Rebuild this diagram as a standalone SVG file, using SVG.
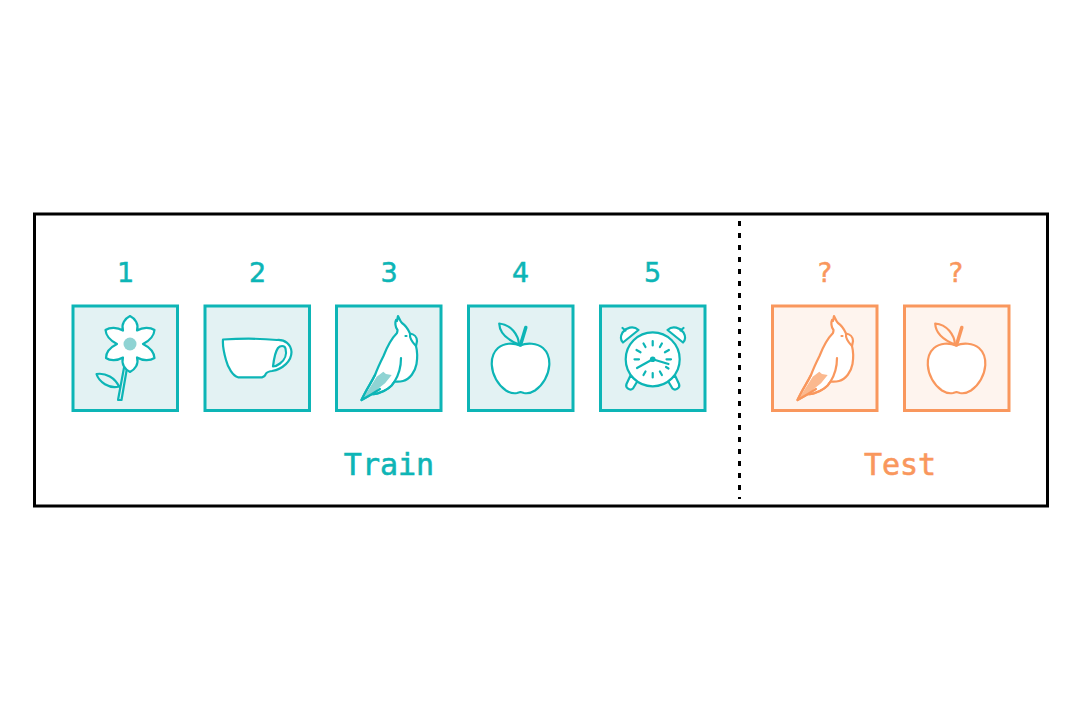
<svg xmlns="http://www.w3.org/2000/svg" width="1081" height="721" viewBox="0 0 1081 721">
<style>
.train{color:#0db5b6;--soft:#8fd3d3}
.test{color:#f9975d;--soft:#fbb98f}
.box{stroke:currentColor;stroke-width:3}
.train .box{fill:#e3f2f3}
.test .box{fill:#fef4ee}
.ico{fill:#fff;stroke:currentColor;stroke-width:2.200;stroke-linejoin:round;stroke-linecap:round}
.no{fill:none}
.soft{fill:var(--soft);stroke:none}
.num{font-family:"DejaVu Sans",sans-serif;font-size:27px;fill:currentColor;stroke:currentColor;stroke-width:.5;text-anchor:middle}
.cap{font-family:"DejaVu Sans Mono",monospace;font-size:30px;fill:currentColor;stroke:currentColor;stroke-width:.6;text-anchor:middle}
</style>
<defs>
<g id="parrot">
<path class="ico" d="M361.500 400C366 390 371 383 375 375C378 367 380 363 383.500 356C387 347 391 339 397 333C397.500 331 397.500 330.500 397.500 330C395 327 395 322 396 320L397 321L398 316C399.500 319 400.500 322 402 323C405 325 408 329 410 333.500C414 334 417 337 417 341L416 346C417.500 352 417.500 358 416.500 364C415 372 410 379 403 381C400 381.800 397 381.800 394.500 381.500C391 388 384 391.500 377 393.500C374 394.300 372 394.400 372 394L361.500 400Z"/>
<path class="soft" d="M362.500 399L376.700 376.700L383.300 371.700L386 374L391.700 375L385 383.300L379 388L373.300 393.300Z"/>
<path class="ico no" d="M361.500 400C366 390 371 383 375 375M361.500 400L372 394C374 394.400 376 394 378 393.500C384 391.500 391 388 394.500 381.500M394.500 381.500C398 376 401 368 401 358M372 394L380 389M410 334C409.500 338 412 342 416 346M405.500 336L406.500 336"/>
</g>
<g id="apple">
<path class="ico" d="M520 345.500C513 342.500 504 343 498 348C493 352.500 491.500 359 491.800 365C492.300 375 498 385 506 390.500C510 393 514 393.600 517 393L520.500 392L524 393C527 393.600 531 393 535 390.500C543 385 548.700 375 549.300 365C549.600 359 548 352.500 543 348C537 343 527 342.500 520 345.500Z"/>
<path class="ico no" d="M519 344.500C518.500 335 511 324.500 499.200 323.500C499.500 331 505 339 519 344.500Z"/>
<path class="no" style="stroke:currentColor;stroke-width:3.500;stroke-linecap:round" d="M520.500 345L525.800 327.500"/>
</g>
</defs>
<rect x="34.500" y="214" width="1013" height="292" fill="none" stroke="#000" stroke-width="3"/>
<g id="connectors">
<path d="M739.500 221V499" fill="none" stroke="#000" stroke-width="3" stroke-dasharray="5 7"/>
</g>
<g id="n1" class="train">
<rect class="box" x="73" y="306" width="104.500" height="104.500"/>
<text class="num" x="125.500" y="282">1</text>
<path class="ico no" d="M124.500 365L118 400H121.500L127 368M119 386.500C115 378 106 372.500 96.500 374C99 382 109 389 119 386.500Z"/>
<path class="ico" d="M130 316C135 318.500 139 324 137 330.500C143 327 150 327 154.500 330C154 336 149 341 143 344C149 347 154 352 154.500 358C150 361 143 361 137 357.500C139 364 135 369.500 130 372C125 369.500 121 364 123 357.500C117 361 110 361 106 358C106 352 111 347 117 344C111 341 106 336 105.500 330C110 327 117 327 123 330.500C121 324 125 318.500 130 316Z"/>
<circle cx="130" cy="344" r="6.500" fill="#8fd3d3" stroke="none"/>
</g>
<g id="n2" class="train">
<rect class="box" x="205" y="306" width="104.500" height="104.500"/>
<text class="num" x="257.500" y="282">2</text>
<path class="ico" d="M223 339.500C240 338.500 262 338.500 277 340C285 339.500 291 344 291.500 352C291.500 361 283 369 272 371C270 371.300 267 372 266 373.500C265.500 375 264 377 262 377.300H238C233 376 228 368 226 360C224 353 222.500 345 223 339.500Z"/>
<path class="ico" d="M273 366.500C274 358 275 352 278 348C280 345.500 284.500 345 285.500 348.500C287 354 285 360 280 363.500C278 365 275 366.500 273 366.500Z" style="fill:#e3f2f3"/>
</g>
<g id="n3" class="train">
<rect class="box" x="336.500" y="306" width="104.500" height="104.500"/>
<text class="num" x="389" y="282">3</text>
<use href="#parrot"/>
</g>
<g id="n4" class="train">
<rect class="box" x="468.500" y="306" width="104.500" height="104.500"/>
<text class="num" x="520.500" y="282">4</text>
<use href="#apple"/>
</g>
<g id="n5" class="train">
<rect class="box" x="600.500" y="306" width="104.500" height="104.500"/>
<text class="num" x="652.500" y="282">5</text>
<g class="ico">
<path d="M630.500 375.500L626.500 384C625 388 630 391 633 388.500L637.500 381ZM675 375.500L679 384C680.500 388 675.500 391 672.500 388.500L668 381Z"/>
<path d="M638.500 330C633 325 626 328 622.500 332.500C620.500 336 620.500 340 623 342.500ZM667.500 330C673 325 680 328 683.500 332.500C685.500 336 685.500 340 683 342.500Z"/>
<path class="no" d="M622.500 328L625.500 330.500M683.500 328L680.500 330.500"/>
<circle cx="652.700" cy="359.300" r="27"/>
<path class="no" d="M652.700 341V345.500M652.700 373V377.500M634.500 359.300H639M666.500 359.300H671M643.500 343.500L645.500 347M661.900 343.500L659.900 347M643.500 375L645.500 371.500M661.900 375L659.900 371.500M636.500 350L640.500 352.300M668.900 350L664.900 352.300M666 367L668.500 368.500"/>
<path class="no" d="M637 368L652.700 359.300L668.500 364"/>
</g>
<circle cx="652.700" cy="359.300" r="2.800" fill="currentColor"/>
</g>
<g id="n6" class="test">
<rect class="box" x="772.500" y="306" width="104.500" height="104.500"/>
<text class="num" x="825" y="282">?</text>
<use href="#parrot" x="436"/>
</g>
<g id="n7" class="test">
<rect class="box" x="904.500" y="306" width="104.500" height="104.500"/>
<text class="num" x="956" y="282">?</text>
<use href="#apple" x="436"/>
</g>
<g id="train-label" class="train"><text class="cap" x="389" y="475">Train</text></g>
<g id="test-label" class="test"><text class="cap" x="900" y="475">Test</text></g>
</svg>
